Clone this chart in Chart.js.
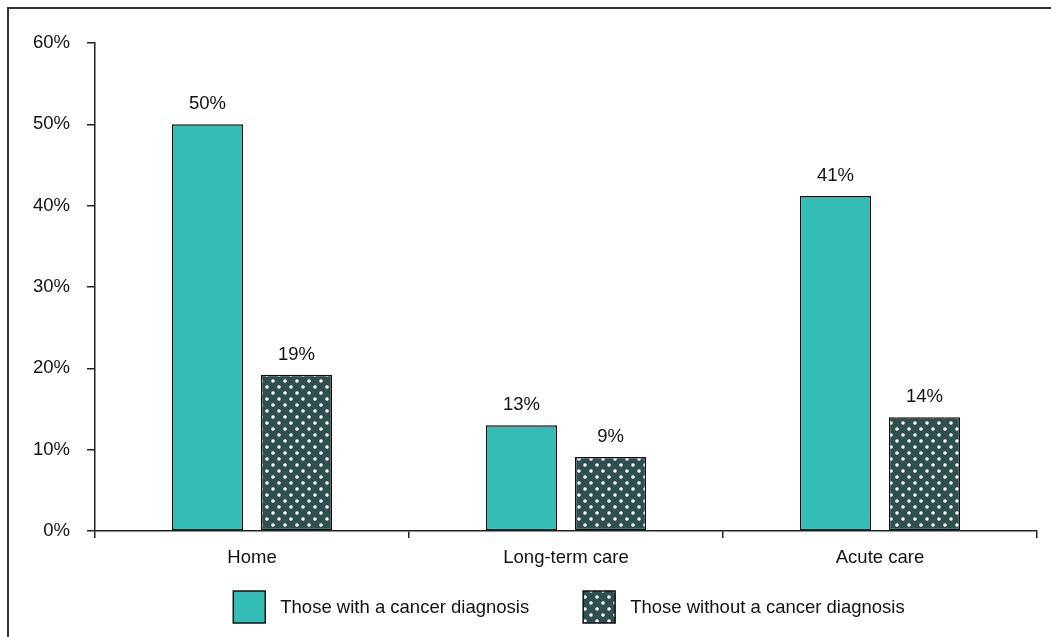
<!DOCTYPE html>
<html>
<head>
<meta charset="utf-8">
<script src="https://cdn.jsdelivr.net/npm/chart.js@4.4.1/dist/chart.umd.min.js"></script>
<style>
  html, body { margin: 0; padding: 0; background: #fff; overflow: hidden; }
  #frame { position: absolute; left: 7px; top: 7px; width: 2000px; height: 2000px;
           border-top: 2px solid #333; border-left: 2px solid #333; }
  #wrap { position: absolute; left: 0; top: 0; width: 1051px; height: 637px; }
</style>
</head>
<body>
<div id="frame"></div>
<div id="wrap"><canvas id="c"></canvas></div>
<script>
const categories = ['Home', 'Long-term care', 'Acute care'];
const withCancer = [50, 13, 41.2];
const withoutCancer = [19.2, 9.1, 14];
const seriesNames = ['Those with a cancer diagnosis', 'Those without a cancer diagnosis'];
const yTicks = [0, 10, 20, 30, 40, 50, 60];

const FONT = "'Liberation Sans', Arial, Helvetica, sans-serif";
const FS = 18.5;
const TEAL = '#33bdb6';
const SLATE = '#2f4f4f';

function makeDots() {
  const t = document.createElement('canvas');
  t.width = 12; t.height = 12;
  const g = t.getContext('2d');
  g.fillStyle = SLATE;
  g.fillRect(0, 0, 12, 12);
  g.fillStyle = '#ffffff';
  [[3, 3], [9, 9]].forEach(([x, y]) => {
    g.beginPath(); g.arc(x, y, 1.8, 0, Math.PI * 2); g.fill();
  });
  return g.createPattern(t, 'repeat');
}
const dots = makeDots();

const valueLabels = {
  id: 'valueLabels',
  afterDatasetsDraw(chart) {
    const ctx = chart.ctx;
    ctx.save();
    ctx.font = FS + 'px ' + FONT;
    ctx.fillStyle = '#111';
    ctx.textAlign = 'center';
    ctx.textBaseline = 'alphabetic';
    chart.data.datasets.forEach((ds, i) => {
      chart.getDatasetMeta(i).data.forEach((bar, j) => {
        ctx.fillText(Math.round(ds.data[j]) + '%', bar.x, bar.y - 15);
      });
    });
    ctx.restore();
  }
};

const customLegend = {
  id: 'customLegend',
  afterDraw(chart) {
    const ctx = chart.ctx;
    const box = 32, gapText = 15, gapItem = 54;
    ctx.save();
    ctx.font = FS + 'px ' + FONT;
    const items = chart.data.datasets.map(ds => ({
      label: ds.label, fill: ds.backgroundColor, w: ctx.measureText(ds.label).width
    }));
    const total = items.reduce((s, it) => s + box + gapText + it.w, 0) + gapItem * (items.length - 1);
    const ca = chart.chartArea;
    let x = (ca.left + ca.right) / 2 - total / 2 + 3;
    const yc = 607;
    items.forEach(it => {
      ctx.fillStyle = it.fill;
      ctx.fillRect(x, yc - box / 2, box, box);
      ctx.strokeStyle = '#111';
      ctx.lineWidth = 1.5;
      ctx.strokeRect(x, yc - box / 2, box, box);
      ctx.fillStyle = '#111';
      ctx.textAlign = 'left';
      ctx.textBaseline = 'middle';
      ctx.fillText(it.label, x + box + gapText, yc + 1);
      x += box + gapText + it.w + gapItem;
    });
    ctx.restore();
  }
};

new Chart(document.getElementById('c'), {
  type: 'bar',
  data: {
    labels: categories,
    datasets: [
      { label: seriesNames[0], data: withCancer, backgroundColor: TEAL, borderColor: '#111', borderWidth: 1.5, borderSkipped: false },
      { label: seriesNames[1], data: withoutCancer, backgroundColor: dots, borderColor: '#111', borderWidth: 1.5, borderSkipped: false }
    ]
  },
  options: {
    responsive: true,
    maintainAspectRatio: false,
    animation: false,
    categoryPercentage: 0.567,
    barPercentage: 0.8,
    layout: { padding: { top: 43, right: 14, bottom: 66, left: 0 } },
    plugins: {
      legend: { display: false },
      tooltip: { enabled: false }
    },
    scales: {
      x: {
        grid: { display: true, drawOnChartArea: false, drawTicks: true, tickLength: 7, color: '#222', lineWidth: 1.5 },
        border: { display: true, color: '#222', width: 1.5 },
        ticks: { font: { size: FS, family: FONT }, color: '#111', padding: 9 },
        afterFit(s) { s.height = 40; }
      },
      y: {
        min: 0, max: 60,
        afterBuildTicks(s) { s.ticks = yTicks.map(v => ({ value: v })); },
        grid: { display: true, drawOnChartArea: false, drawTicks: true, tickLength: 8, color: '#222', lineWidth: 1.5 },
        border: { display: true, color: '#222', width: 1.5 },
        ticks: { font: { size: FS, family: FONT }, color: '#111', padding: 17, callback: v => v + '%' },
        afterFit(s) { s.width = 95; }
      }
    }
  },
  plugins: [valueLabels, customLegend]
});
</script>
</body>
</html>
